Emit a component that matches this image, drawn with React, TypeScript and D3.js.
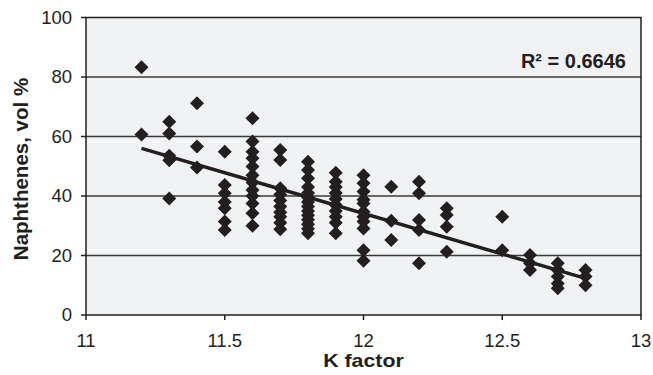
import React from "react";
import * as d3 from "d3";

// Data: K factor columns and naphthenes values (vol %)
const kFactors = [11.2, 11.3, 11.4, 11.5, 11.6, 11.7, 11.8, 11.9, 12.0, 12.1, 12.2, 12.3, 12.5, 12.6, 12.7, 12.8];
const naphthenes: number[][] = [
  [83.3, 60.7],
  [65, 61, 53.5, 52, 39.2],
  [71.2, 56.6, 49.6],
  [54.9, 43.7, 40.9, 38, 35.9, 31.4, 28.6],
  [66.1, 58.3, 54.9, 52.7, 49.9, 47, 44.5, 42, 40, 37.5, 34.2, 30],
  [55.5, 52.1, 42.6, 40.5, 38.5, 36.5, 34.5, 33, 31, 28.8],
  [51.5, 48.7, 46, 43, 41, 39.5, 38, 36.5, 35, 33.5, 32, 30.5, 29, 27.5],
  [47.8, 44.8, 43, 41, 39, 37, 35, 33, 31, 27.5],
  [47, 44.3, 41.5, 38.7, 37.5, 34.7, 33, 31.4, 29.1, 21.8, 18.2],
  [43.1, 31.7, 25.2],
  [44.8, 40.9, 31.9, 28.6, 17.4],
  [35.9, 33.6, 29.7, 21.3],
  [33, 21.8],
  [20.2, 17.4, 15.1],
  [17.4, 15.1, 12.9, 10.6, 9],
  [15.1, 12.9, 10],
];
const trendX = [11.2, 12.8];
const trendY = [56, 12.3];
const xTicks = [11, 11.5, 12, 12.5, 13];
const yTicks = [0, 20, 40, 60, 80, 100];
const r2Label = "R\u00B2 = 0.6646";
const xTitle = "K factor";
const yTitle = "Naphthenes, vol %";

const W = 653;
const H = 375;
const left = 86, right = 641, top = 17.5, bottom = 315;

export default function App() {
  const x = d3.scaleLinear().domain([11, 13]).range([left, right]);
  const y = d3.scaleLinear().domain([0, 100]).range([bottom, top]);
  const points: { k: number; v: number }[] = [];
  kFactors.forEach((k, i) => naphthenes[i].forEach((v) => points.push({ k, v })));
  const line = d3
    .line<number>()
    .x((_, i) => x(trendX[i]))
    .y((d) => y(d));
  const s = 7;
  const diamond = `M0,${-s}L${s},0L0,${s}L${-s},0Z`;
  const font = "'Liberation Sans', Arial, Helvetica, sans-serif";
  return (
    <svg
      width={W}
      height={H}
      style={{ position: "absolute", left: 0, top: 0, background: "#fff" }}
      fontFamily={font}
    >
      <rect x={left} y={top} width={right - left} height={bottom - top} fill="#f1f2f4" />
      {yTicks
        .filter((t) => t > 0 && t < 100)
        .map((t) => (
          <line key={t} x1={left} x2={right} y1={y(t)} y2={y(t)} stroke="#3a3a3a" strokeWidth={1.5} />
        ))}
      <rect x={left} y={top} width={right - left} height={bottom - top} fill="none" stroke="#231f20" strokeWidth={1.5} />
      {yTicks.map((t) => (
        <g key={t}>
          <line x1={left - 5} x2={left} y1={y(t)} y2={y(t)} stroke="#231f20" strokeWidth={1.5} />
          <text x={72} y={y(t)} dy="0.35em" textAnchor="end" fontSize={18.5} fill="#231f20">
            {t}
          </text>
        </g>
      ))}
      {xTicks.map((t) => (
        <g key={t}>
          <line x1={x(t)} x2={x(t)} y1={bottom} y2={bottom + 5} stroke="#231f20" strokeWidth={1.5} />
          <text x={x(t)} y={347} textAnchor="middle" fontSize={18.5} fill="#231f20">
            {t}
          </text>
        </g>
      ))}
      {points.map((p, i) => (
        <path key={i} d={diamond} transform={`translate(${x(p.k)},${y(p.v)})`} fill="#231f20" />
      ))}
      <path d={line(trendY) || ""} fill="none" stroke="#231f20" strokeWidth={3.5} />
      <text x={626} y={68} textAnchor="end" fontSize={20} fontWeight="bold" fill="#231f20">
        {r2Label}
      </text>
      <text
        transform={`translate(${(left + right) / 2},367) scale(1.22,1)`}
        textAnchor="middle"
        fontSize={17.5}
        fontWeight="bold"
        fill="#231f20"
      >
        {xTitle}
      </text>
      <text
        transform={`translate(27.5,${(75 + 263) / 2}) rotate(-90)`}
        textAnchor="middle"
        fontSize={20.5}
        fontWeight="bold"
        fill="#231f20"
      >
        {yTitle}
      </text>
    </svg>
  );
}
